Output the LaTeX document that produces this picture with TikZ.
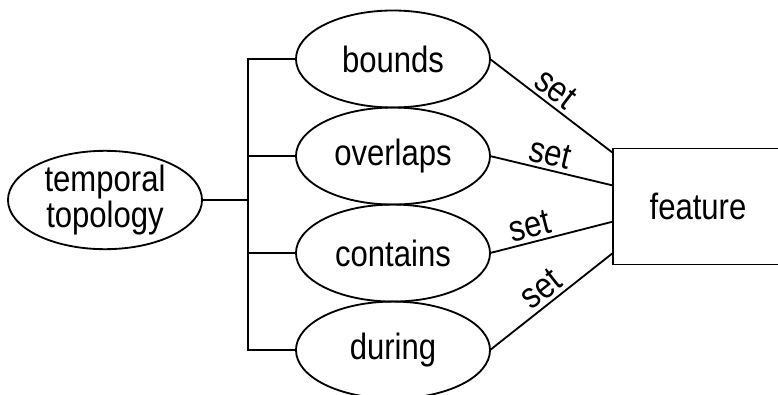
\documentclass[tikz,border=0pt]{standalone}
\usepackage{fontspec}
\setsansfont{Liberation Sans}[FakeStretch=0.85]
\usetikzlibrary{positioning, calc, shapes.geometric}

\begin{document}
\begin{tikzpicture}[
    x=0.025cm, y=-0.025cm,
    font=\sffamily\fontsize{26}{21.3}\selectfont,
    every path/.style={line width=1.3pt},
    topic/.style={draw, ellipse, inner sep=0pt, align=center,
        minimum width=4.85cm, minimum height=2.4cm},
    relation/.style={draw, ellipse, inner sep=0pt, outer sep=0pt,
        minimum width=4.85cm, minimum height=2.425cm},
    entity/.style={draw, rectangle, minimum width=4.25cm, minimum height=2.9cm},
    setlabel/.style={sloped, above, inner sep=2.5pt},
]
\useasboundingbox (0,0) rectangle (778,395);

% thema
\node[topic] (tt) at (105,200) {temporal\\topology};

% vier relaties
\node[relation] (bounds) at (393,59) {bounds};
\node[relation, below=0pt of bounds]   (overlaps) {overlaps};
\node[relation, below=0pt of overlaps] (contains) {contains};
\node[relation, below=0pt of contains] (during)   {during};

% vertakking
\coordinate (fork) at (248,200);
\draw (tt.east) -- (fork);
\foreach \r in {bounds,overlaps,contains,during} \draw (fork) |- (\r.west);

% doel
\node[entity] (feature) at (698,206.5) {feature};
\foreach \r/\f/\p in {bounds/0.04/0.46, overlaps/0.32/0.46,
                      contains/0.63/0.36, during/0.90/0.5}
    \draw (\r.east) -- node[setlabel, pos=\p] {set}
          ($(feature.north west)!\f!(feature.south west)$);

\end{tikzpicture}
\end{document}
